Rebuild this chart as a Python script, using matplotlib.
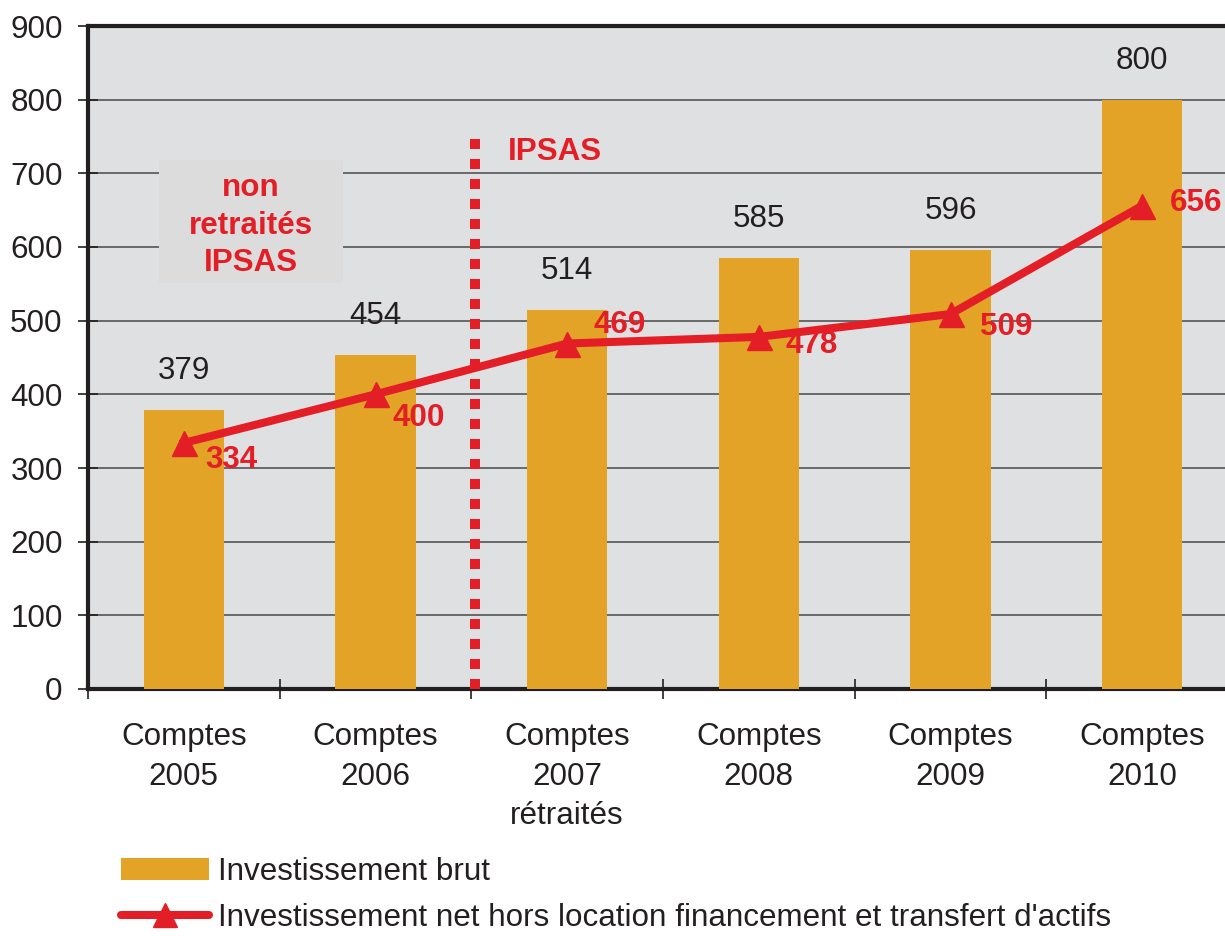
import matplotlib
matplotlib.use("Agg")
import matplotlib.pyplot as plt
from matplotlib.patches import Patch, Rectangle
from matplotlib.lines import Line2D

plt.rcParams['font.family'] = ['Liberation Sans', 'DejaVu Sans']

categories = ["Comptes\n2005", "Comptes\n2006", "Comptes\n2007\nrétraités",
              "Comptes\n2008", "Comptes\n2009", "Comptes\n2010"]
brut = [379, 454, 514, 585, 596, 800]
net = [334, 400, 469, 478, 509, 656]
# label offsets for the red values (in points)
net_offsets = [(34, -12), (31, -17), (38, 13), (38, -6), (40, -9), (39, 2)]

BAR = '#E2A327'
RED = '#E31E26'
BG = '#DFE0E2'
DARK = '#231F20'
FS = 22.6

fig = plt.figure(figsize=(12.25, 9.36), dpi=100)
ax = fig.add_axes([88 / 1225, 1 - 689 / 936, (1238 - 88) / 1225, (689 - 26) / 936])
ax.set_facecolor(BG)

x = list(range(len(categories)))
ax.bar(x, brut, width=0.42, color=BAR, zorder=3)
ax.plot(x, net, color=RED, lw=5.8, marker='^', markersize=18, zorder=5)

for xi, v in zip(x, brut):
    ax.annotate(str(v), (xi, v), xytext=(0, 28), textcoords='offset points',
                ha='center', va='center', fontsize=FS, color=DARK, zorder=6)
for xi, v, off in zip(x, net, net_offsets):
    ax.annotate(str(v), (xi, v), xytext=off, textcoords='offset points',
                ha='center', va='center', fontsize=FS, color=RED,
                fontweight='bold', zorder=6)

# IPSAS separation
ax.plot([1.52, 1.52], [0, 756], color=RED, lw=7.2, linestyle=(0, (1, 1)), zorder=4,
        dash_capstyle='butt')
ax.text(1.69, 729, "IPSAS", color=RED, fontsize=FS, fontweight='bold',
        ha='left', va='center', zorder=6)

ax.add_patch(Rectangle((-0.13, 551), 0.96, 167, facecolor='#DCDCDC',
                       edgecolor='none', zorder=2))
ax.text(0.35, 629, "non\nretraités\nIPSAS", color=RED, fontsize=FS,
        fontweight='bold', ha='center', va='center', linespacing=1.33, zorder=6)

ax.set_xlim(-0.5, 5.5)
ax.set_ylim(0, 900)
ax.set_yticks(range(0, 1000, 100))
ax.yaxis.grid(True, color='#555555', lw=1.2, zorder=1)
ax.set_axisbelow(True)

ax.set_xticks(x)
ax.set_xticklabels(categories, fontsize=FS, color=DARK, linespacing=1.4)
ax.set_xticks([i - 0.5 for i in range(len(categories) + 1)], minor=True)
ax.tick_params(axis='x', which='major', length=0, pad=24)
ax.tick_params(axis='x', which='minor', direction='inout', length=14.4, width=1.2,
               color=DARK)
ax.tick_params(axis='y', direction='inout', length=14.4, width=1.2, color=DARK,
               labelsize=FS, labelcolor=DARK, pad=11)

for s in ['left', 'top', 'bottom']:
    ax.spines[s].set_linewidth(3)
    ax.spines[s].set_color(DARK)
ax.spines['right'].set_visible(False)

handles = [Patch(facecolor=BAR, edgecolor='none'),
           Line2D([], [], color=RED, lw=5.8, marker='^', markersize=17,
                  solid_capstyle='round')]
labels = ["Investissement brut",
          "Investissement net hors location financement et transfert d'actifs"]
fig.legend(handles, labels, loc='upper left', bbox_to_anchor=(121 / 1225, 1 - 857 / 936),
           frameon=False, fontsize=FS, handlelength=2.8, handletextpad=0.3,
           labelspacing=0.52, borderpad=0, borderaxespad=0, labelcolor=DARK)

fig.savefig("out.png", dpi=100)
